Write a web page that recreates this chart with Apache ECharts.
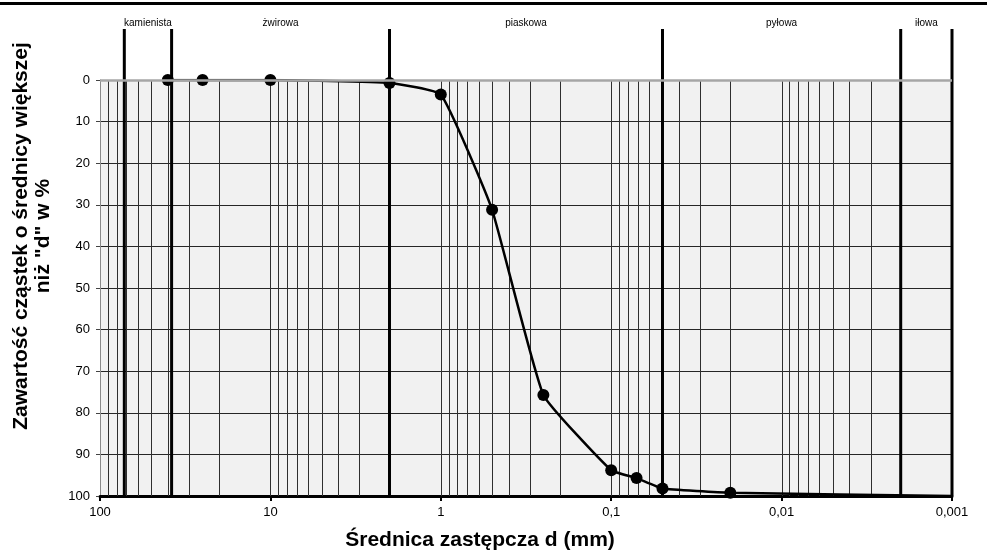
<!DOCTYPE html>
<html>
<head>
<meta charset="utf-8">
<script src="https://cdn.jsdelivr.net/npm/echarts@6/dist/echarts.min.js"></script>
<style>
  html, body { margin: 0; padding: 0; background: #fff; }
  #chart { width: 987px; height: 554px; }
</style>
</head>
<body>
<div id="chart"></div>
<script>
// grain sizes (mm) and percent of particles larger than d
var sizes = [40, 25, 10, 2, 1, 0.5, 0.25, 0.1, 0.071, 0.05, 0.02, 0.001];
var percents = [0, 0, 0, 0.7, 3.5, 31.2, 75.7, 93.8, 95.7, 98.2, 99.2, 100];

// fraction boundaries (mm) and names of the fractions between them
var bounds = [72, 38, 2, 0.05, 0.002, 0.001];
var fractions = ["kamienista", "żwirowa", "piaskowa", "pyłowa", "iłowa"];

var xTickLabels = { "2": "100", "1": "10", "0": "1", "-1": "0,1", "-2": "0,01", "-3": "0,001" };
var yTicks = [0, 10, 20, 30, 40, 50, 60, 70, 80, 90, 100];

// vertical log grid lines 1..9 x each decade
var gridX = [];
for (var e = 1; e >= -3; e--) {
  for (var k = 9; k >= 1; k--) {
    gridX.push([+(k * Math.pow(10, e)).toPrecision(3)]);
  }
}

var font = "'Liberation Sans', Arial, sans-serif";
var chart = echarts.init(document.getElementById("chart"));

var option = {
  animation: false,
  textStyle: { fontFamily: font },
  graphic: [
    { type: "rect", shape: { x: 0, y: 2, width: 987, height: 3 }, style: { fill: "#000" } }
  ],
  grid: {
    left: 100, right: 35, top: 80, bottom: 58,
    containLabel: false,
    outerBoundsMode: "none",
    show: true,
    backgroundColor: "#f1f1f1",
    borderWidth: 0
  },
  xAxis: {
    type: "log",
    logBase: 10,
    min: 0.001,
    max: 100,
    inverse: true,
    name: "Średnica zastępcza d (mm)",
    nameLocation: "middle",
    nameGap: 34,
    nameTextStyle: {
      fontSize: 21, fontWeight: "bold", color: "#000", fontFamily: font,
      padding: [0, 92, 0, 0]
    },
    axisLine: { show: true, onZero: false, lineStyle: { color: "#000", width: 3 } },
    axisTick: { show: true, length: 5, lineStyle: { color: "#000", width: 2 } },
    axisLabel: {
      fontSize: 13, color: "#000", margin: 10, fontFamily: font,
      formatter: function (v) { return xTickLabels[Math.round(Math.log10(v))]; }
    },
    splitLine: { show: false },
    minorTick: { show: false },
    minorSplitLine: { show: false }
  },
  yAxis: {
    type: "value",
    min: 0,
    max: 100,
    interval: 10,
    inverse: true,
    name: "Zawartość cząstek o średnicy większej\nniż \"d\" w %",
    nameLocation: "middle",
    nameRotate: 90,
    nameGap: 46,
    nameTextStyle: {
      fontSize: 21, fontWeight: "bold", color: "#000", fontFamily: font,
      lineHeight: 22, padding: [0, 0, 0, 104]
    },
    axisLine: { show: true, lineStyle: { color: "#8a8a8a", width: 1 } },
    axisTick: { show: true, length: 4, lineStyle: { color: "#444" } },
    axisLabel: {
      fontSize: 13, color: "#000", margin: 10, fontFamily: font,
      formatter: function (v) { return yTicks.indexOf(v) >= 0 ? String(v) : ""; }
    },
    splitLine: { show: true, lineStyle: { color: "#262626", width: 1 } }
  },
  series: [
    {
      type: "custom",
      name: "siatka",
      z: 1,
      silent: true,
      data: gridX,
      encode: { x: 0 },
      renderItem: function (params, api) {
        var p0 = api.coord([api.value(0), 0]);
        var p1 = api.coord([api.value(0), 100]);
        var x = Math.round(p0[0]) + 0.5;
        return {
          type: "line",
          shape: { x1: x, y1: p0[1], x2: x, y2: p1[1] },
          style: { stroke: "#2e2e2e", lineWidth: 1 }
        };
      },
      markLine: {
        silent: true,
        symbol: "none",
        label: { show: false },
        lineStyle: { color: "#a6a6a6", width: 2.5, type: "solid" },
        data: [{ yAxis: 0 }]
      }
    },
    {
      type: "custom",
      name: "frakcje",
      z: 2,
      silent: true,
      clip: false,
      data: bounds.map(function (b) { return [b]; }),
      encode: { x: 0 },
      renderItem: function (params, api) {
        var i = params.dataIndex;
        var top = api.coord([api.value(0), -12.25]);
        var bot = api.coord([api.value(0), 100]);
        var children = [{
          type: "line",
          shape: { x1: top[0], y1: top[1], x2: bot[0], y2: bot[1] },
          style: { stroke: "#000", lineWidth: 3 }
        }];
        if (i > 0) {
          var prev = api.coord([bounds[i - 1], -12.25]);
          children.push({
            type: "text",
            x: (prev[0] + top[0]) / 2,
            y: top[1] - 1,
            style: {
              text: fractions[i - 1],
              fill: "#000",
              font: "10px " + font,
              textAlign: "center",
              textVerticalAlign: "bottom"
            }
          });
        }
        return { type: "group", children: children };
      }
    },
    {
      type: "line",
      name: "krzywa",
      z: 3,
      smooth: 0.12,
      symbol: "circle",
      symbolSize: 12,
      itemStyle: { color: "#000" },
      lineStyle: { color: "#000", width: 2.5 },
      data: sizes.map(function (s, i) {
        var item = { value: [s, percents[i]] };
        if (i === sizes.length - 1) item.symbol = "none";
        return item;
      })
    }
  ]
};

chart.setOption(option);
</script>
</body>
</html>
